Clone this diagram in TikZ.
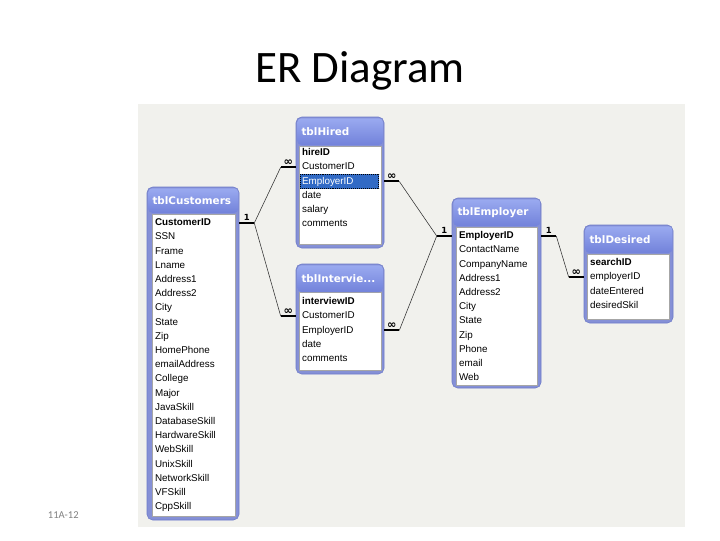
\documentclass[tikz,border=0pt]{standalone}
\usepackage{fontspec}
\setmainfont{Carlito}
\newfontfamily\fieldfont{Liberation Sans}
\newfontfamily\headfont{DejaVu Sans}
\usetikzlibrary{fit,positioning}

\definecolor{panelgray}{HTML}{F1F1ED}
\definecolor{frameblue}{HTML}{8590D6}
\definecolor{frameline}{HTML}{6E7BC8}
\definecolor{headtop}{HTML}{9AAAF0}
\definecolor{headbot}{HTML}{7282DA}
\definecolor{selblue}{HTML}{316AC5}

\begin{document}
\begin{tikzpicture}[x=0.025cm, y=-0.025cm]
    \tikzset{
      frame/.style={
        draw=frameline,
        fill=frameblue,
        rounded corners=4pt,
        inner sep=0pt
      },
      body/.style={draw=gray!70, fill=white, inner sep=0pt},
      head/.style={
        anchor=north west,
        align=left,
        inner xsep=3pt,
        minimum height=19pt,
        rounded corners=3pt,
        top color=headtop,
        bottom color=headbot,
        text=white,
        font=\headfont\bfseries\fontsize{7.4}{8}\selectfont
      },
      field/.style={
        anchor=west,
        inner xsep=1.5pt,
        inner ysep=0pt,
        outer sep=0pt,
        minimum height=10.1pt,
        text height=5.3pt,
        text depth=1.6pt,
        font=\fieldfont\fontsize{7}{8}\selectfont
      },
      key/.style={field, font=\fieldfont\bfseries\fontsize{7}{8}\selectfont},
      nextrow/.style={field, below=0pt of #1.south west, anchor=north west},
      hilite/.style={fill=selblue, draw, densely dotted, text=white, text width=53pt},
      stub/.style={draw, line width=1.5pt},
      rel/.style={draw, black!80, line width=0.4pt},
      one/.style={above, inner sep=1pt, font=\headfont\bfseries\fontsize{6}{6}\selectfont},
      many/.style={above, inner sep=0.5pt, font=\headfont\bfseries\fontsize{8}{8}\selectfont}
    }

    \useasboundingbox (0,0) rectangle (720,540);
    \fill[panelgray] (138,104) rectangle (685,527);

    \node [anchor=base, font=\fontsize{32}{36}\selectfont] (title) at (360,82) {ER Diagram};
    \node [anchor=base west, text=gray, font=\fontsize{7.5}{9}\selectfont] (slideno) at (43,518) {11A-12};

    % tblCustomers
    \node [frame, fit={(147,187) (239,520)}] (custFrame) {};
    \node [body, fit={(152,214) (235,516)}] (custBody) {};
    \node [head, text width=58pt, minimum height=17.5pt] (custHead) at (148,188) {tblCustomers};
    \node [key] (cust1) at (153,223) {CustomerID};
    \node [nextrow=cust1] (cust2) {SSN};
    \node [nextrow=cust2] (cust3) {Frame};
    \node [nextrow=cust3] (cust4) {Lname};
    \node [nextrow=cust4] (cust5) {Address1};
    \node [nextrow=cust5] (cust6) {Address2};
    \node [nextrow=cust6] (cust7) {City};
    \node [nextrow=cust7] (cust8) {State};
    \node [nextrow=cust8] (cust9) {Zip};
    \node [nextrow=cust9] (cust10) {HomePhone};
    \node [nextrow=cust10] (cust11) {emailAddress};
    \node [nextrow=cust11] (cust12) {College};
    \node [nextrow=cust12] (cust13) {Major};
    \node [nextrow=cust13] (cust14) {JavaSkill};
    \node [nextrow=cust14] (cust15) {DatabaseSkill};
    \node [nextrow=cust15] (cust16) {HardwareSkill};
    \node [nextrow=cust16] (cust17) {WebSkill};
    \node [nextrow=cust17] (cust18) {UnixSkill};
    \node [nextrow=cust18] (cust19) {NetworkSkill};
    \node [nextrow=cust19] (cust20) {VFSkill};
    \node [nextrow=cust20] (cust21) {CppSkill};

    % tblHired
    \node [frame, fit={(296,117) (384,248)}] (hiredFrame) {};
    \node [body, fit={(299,146) (381,244)}] (hiredBody) {};
    \node [head, text width=55pt] (hiredHead) at (297,118) {tblHired};
    \node [key] (hired1) at (300,153) {hireID};
    \node [nextrow=hired1] (hired2) {CustomerID};
    \node [nextrow=hired2, hilite] (hired3) {EmployerID};
    \node [nextrow=hired3] (hired4) {date};
    \node [nextrow=hired4] (hired5) {salary};
    \node [nextrow=hired5] (hired6) {comments};

    % tblInterview
    \node [frame, fit={(296,264) (384,374)}] (intFrame) {};
    \node [body, fit={(299,292) (381,370)}] (intBody) {};
    \node [head, text width=55pt] (intHead) at (297,265) {tblIntervie...};
    \node [key] (int1) at (300,302) {interviewID};
    \node [nextrow=int1] (int2) {CustomerID};
    \node [nextrow=int2] (int3) {EmployerID};
    \node [nextrow=int3] (int4) {date};
    \node [nextrow=int4] (int5) {comments};

    % tblEmployer
    \node [frame, fit={(452,198) (541,388)}] (empFrame) {};
    \node [body, fit={(456,227) (537,385)}] (empBody) {};
    \node [head, text width=56pt] (empHead) at (453,199) {tblEmployer};
    \node [key] (emp1) at (457,236) {EmployerID};
    \node [nextrow=emp1] (emp2) {ContactName};
    \node [nextrow=emp2] (emp3) {CompanyName};
    \node [nextrow=emp3] (emp4) {Address1};
    \node [nextrow=emp4] (emp5) {Address2};
    \node [nextrow=emp5] (emp6) {City};
    \node [nextrow=emp6] (emp7) {State};
    \node [nextrow=emp7] (emp8) {Zip};
    \node [nextrow=emp8] (emp9) {Phone};
    \node [nextrow=emp9] (emp10) {email};
    \node [nextrow=emp10] (emp11) {Web};

    % tblDesired
    \node [frame, fit={(584,225) (673,323)}] (desFrame) {};
    \node [body, fit={(587,254) (669,319)}] (desBody) {};
    \node [head, text width=56pt] (desHead) at (585,226) {tblDesired};
    \node [key] (des1) at (588,263) {searchID};
    \node [nextrow=des1] (des2) {employerID};
    \node [nextrow=des2] (des3) {dateEntered};
    \node [nextrow=des3] (des4) {desiredSkil};

    % join lines
    \path[stub] (cust1 -| custFrame.east) -- node[one] {1} ++(15,0) coordinate (custKnee);
    \path[stub] (hired2 -| hiredFrame.west) -- node[many] {∞} ++(-15,0) coordinate (hiredCustKnee);
    \path[stub] (int2 -| intFrame.west) -- node[many] {∞} ++(-15,0) coordinate (intCustKnee);
    \path[stub] (hired3 -| hiredFrame.east) -- node[many] {∞} ++(15,0) coordinate (hiredEmpKnee);
    \path[stub] (int3 -| intFrame.east) -- node[many] {∞} ++(15,0) coordinate (intEmpKnee);
    \path[stub] (emp1 -| empFrame.west) -- node[one] {1} ++(-15,0) coordinate (empInKnee);
    \path[stub] (emp1 -| empFrame.east) -- node[one] {1} ++(15,0) coordinate (empOutKnee);
    \path[stub] (des2 -| desFrame.west) -- node[many] {∞} ++(-15,0) coordinate (desKnee);

    \path[rel] (custKnee) edge (hiredCustKnee)
      (custKnee) edge (intCustKnee)
      (hiredEmpKnee) edge (empInKnee)
      (intEmpKnee) edge (empInKnee)
      (empOutKnee) edge (desKnee);
\end{tikzpicture}
\end{document}
